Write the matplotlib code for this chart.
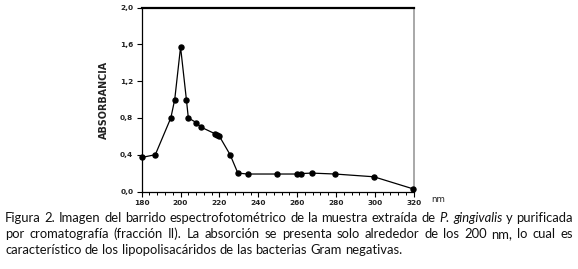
import matplotlib
matplotlib.use('Agg')
import matplotlib.pyplot as plt
from matplotlib.ticker import MultipleLocator, FuncFormatter

# ── data ──
wavelength = [180, 187, 195, 197, 200, 203, 204, 208, 210.5, 217.5, 219, 220,
              225.5, 229.5, 234.5, 249.5, 260, 262, 267.5, 279.5, 299.5, 319.5]
absorbance = [0.37, 0.40, 0.80, 1.00, 1.57, 1.00, 0.80, 0.75, 0.70, 0.63, 0.61, 0.60,
              0.40, 0.20, 0.19, 0.19, 0.19, 0.195, 0.20, 0.19, 0.16, 0.03]

x_ticks = [180, 200, 220, 240, 260, 280, 300, 320]
y_ticks = [0.0, 0.4, 0.8, 1.2, 1.6, 2.0]

caption_lines = [
    [("Figura", 0), ("2.", 0), ("Imagen", 0), ("del", 0), ("barrido", 0), ("espectrofotométrico", 0),
     ("de", 0), ("la", 0), ("muestra", 0), ("extraída", 0), ("de", 0), ("P.", 1), ("gingivalis", 1),
     ("y", 0), ("purificada", 0)],
    [("por", 0), ("cromatografía", 0), ("(fracción", 0), ("II).", 0), ("La", 0), ("absorción", 0),
     ("se", 0), ("presenta", 0), ("solo", 0), ("alrededor", 0), ("de", 0), ("los", 0), ("200", 0),
     ("nm,", 0), ("lo", 0), ("cual", 0), ("es", 0)],
    [("característico", 0), ("de", 0), ("los", 0), ("lipopolisacáridos", 0), ("de", 0), ("las", 0),
     ("bacterias", 0), ("Gram", 0), ("negativas.", 0)],
]

W, H = 578, 269
fig = plt.figure(figsize=(W / 100, H / 100), dpi=100)
ax = fig.add_axes([141.7 / W, 1 - 191.5 / H, (413.7 - 141.7) / W, (191.5 - 7.5) / H])

ax.plot(wavelength, absorbance, color='black', lw=0.9, marker='o', ms=3.6,
        mfc='black', mec='black', clip_on=False, zorder=3)

ax.set_xlim(180, 320)
ax.set_ylim(0, 2.0)
ax.set_xticks(x_ticks)
ax.set_yticks(y_ticks)
ax.xaxis.set_minor_locator(MultipleLocator(4))
ax.yaxis.set_major_formatter(FuncFormatter(lambda v, p: f"{v:.1f}".replace('.', ',')))
ax.tick_params(axis='both', which='major', direction='out', length=3.5, width=0.8,
               labelsize=5.3, pad=2.5, colors='black')
ax.tick_params(axis='x', which='minor', direction='out', length=2, width=0.7)
for lbl in ax.get_xticklabels() + ax.get_yticklabels():
    lbl.set_fontweight('bold')
    lbl.set_color('#222222')

ax.spines['top'].set_linewidth(1.6)
ax.spines['right'].set_color('#999999')
ax.spines['right'].set_linewidth(1.2)
ax.spines['left'].set_linewidth(0.9)
ax.spines['bottom'].set_linewidth(0.9)

ax.set_ylabel('ABSORBANCIA', fontsize=6.9, fontweight='semibold', labelpad=8, color='#222222')
fig.text(438 / W, 1 - 199 / H, 'nm', fontsize=6.3, ha='center', va='center', color='#222222')

# ── justified caption ──
fig.canvas.draw()
renderer = fig.canvas.get_renderer()
x0, x1 = 5, 573
fs = 9.4
line_y = [222, 238, 254]   # baselines
for i, words in enumerate(caption_lines):
    texts = []
    for w, it in words:
        t = fig.text(0, 1 - line_y[i] / H, w, fontsize=fs, family='Lato',
                     style='italic' if it else 'normal', va='baseline', ha='left', color='#111111')
        texts.append(t)
    widths = [t.get_window_extent(renderer).width for t in texts]
    if i < 2:
        gap = (x1 - x0 - sum(widths)) / (len(texts) - 1)
    else:
        gap = fig.text(0, 0, ' ', fontsize=fs, family='Lato').get_window_extent(renderer).width
    xp = x0
    for t, w in zip(texts, widths):
        t.set_x(xp / W)
        xp += w + gap

fig.savefig('out.png', dpi=100)
